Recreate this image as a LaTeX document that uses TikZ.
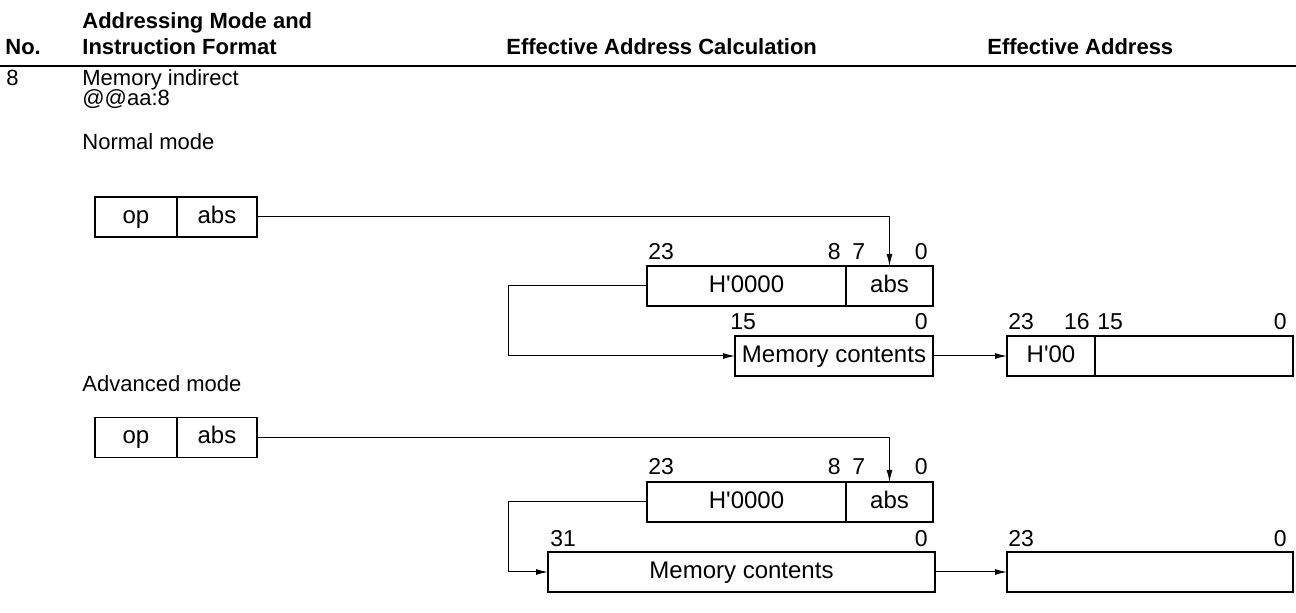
\documentclass[tikz,border=0pt]{standalone}
\usepackage{fontspec}
\setmainfont{Liberation Sans}
\usetikzlibrary{arrows.meta}
\newcommand{\sq}{\textquotesingle}
\begin{document}
\begin{tikzpicture}[x=0.5pt,y=-0.5pt,
  every node/.style={font=\fontsize{11}{13}\selectfont},
  hdr/.style={font=\fontsize{11}{13}\selectfont\bfseries, anchor=base west, inner sep=0},
  txt/.style={anchor=base west, inner sep=0},
  bitl/.style={anchor=base west, inner sep=0, font=\fontsize{11.5}{13}\selectfont},
  bitr/.style={anchor=base east, inner sep=0, font=\fontsize{11.5}{13}\selectfont},
  fld/.style={draw, line width=0.6pt, inner sep=0, outer sep=0, minimum height=20pt,
    font=\fontsize{12}{14}\selectfont, text height=8.6pt, text depth=2.2pt},
  arr/.style={line width=0.5pt, -{Latex[length=6pt,width=3pt]}}]
\useasboundingbox (0,0) rectangle (1296,613);
% header
\node[hdr] (hno) at (5,55) {No.};
\node[hdr] (ham) at (82,29) {Addressing Mode and};
\node[hdr] (hif) at (82,55) {Instruction Format};
\node[hdr] (hea) at (506,55) {Effective Address Calculation};
\node[hdr] (hef) at (987,55) {Effective Address};
\draw[line width=1pt] (0,66) -- (1296,66);
% row
\node[txt] (n8) at (6,86) {8};
\node[txt] (mi) at (82,86) {Memory indirect};
\node[txt] (aa) at (82,106) {@@aa:8};
\node[txt] (nm) at (82,150) {Normal mode};
% normal mode
\node[fld, minimum width=41pt] (op1) at (136,217) {op};
\node[fld, minimum width=40pt] (abs1) at (217,217) {abs};
\node[fld, minimum width=99.5pt] (h1) at (746.5,286) {H\sq0000};
\node[fld, minimum width=43.5pt] (a1) at (889.5,286) {abs};
\node[bitl] (b1a) at (648,260) {23};
\node[bitr] (b1b) at (841,260) {8};
\node[bitl] (b1c) at (852,260) {7};
\node[bitr] (b1d) at (928,260) {0};
\node[fld, minimum width=99pt] (m1) at (834,356) {Memory contents};
\node[bitl] (b2a) at (730,330) {15};
\node[bitr] (b2b) at (928,330) {0};
\node[fld, minimum width=44pt] (r1a) at (1051,356) {H\sq00};
\node[fld, minimum width=99pt] (r1b) at (1194,356) {};
\node[bitl] (b3a) at (1008,330) {23};
\node[bitr] (b3b) at (1090,330) {16};
\node[bitl] (b3c) at (1097,330) {15};
\node[bitr] (b3d) at (1287,330) {0};
\draw[arr] (abs1.east) -| (a1.north);
\draw[arr] (h1.west) -- ++(-139,0) |- (m1.west);
\draw[arr] (m1.east) -- (r1a.west);
% advanced mode
\node[txt] (am) at (82,392) {Advanced mode};
\node[fld, minimum width=41pt] (op2) at (136,437.5) {op};
\node[fld, minimum width=40pt] (abs2) at (217,437.5) {abs};
\node[fld, minimum width=99.5pt] (h2) at (746.5,502) {H\sq0000};
\node[fld, minimum width=43.5pt] (a2) at (889.5,502) {abs};
\node[bitl] (b4a) at (648,475) {23};
\node[bitr] (b4b) at (841,475) {8};
\node[bitl] (b4c) at (852,475) {7};
\node[bitr] (b4d) at (928,475) {0};
\node[fld, minimum width=193.5pt] (m2) at (741.5,572) {Memory contents};
\node[bitl] (b5a) at (550,547) {31};
\node[bitr] (b5b) at (928,547) {0};
\node[fld, minimum width=143pt] (r2) at (1150,572) {};
\node[bitl] (b6a) at (1008,547) {23};
\node[bitr] (b6b) at (1287,547) {0};
\draw[arr] (abs2.east) -| (a2.north);
\draw[arr] (h2.west) -- ++(-139,0) |- (m2.west);
\draw[arr] (m2.east) -- (r2.west);
\end{tikzpicture}
\end{document}
